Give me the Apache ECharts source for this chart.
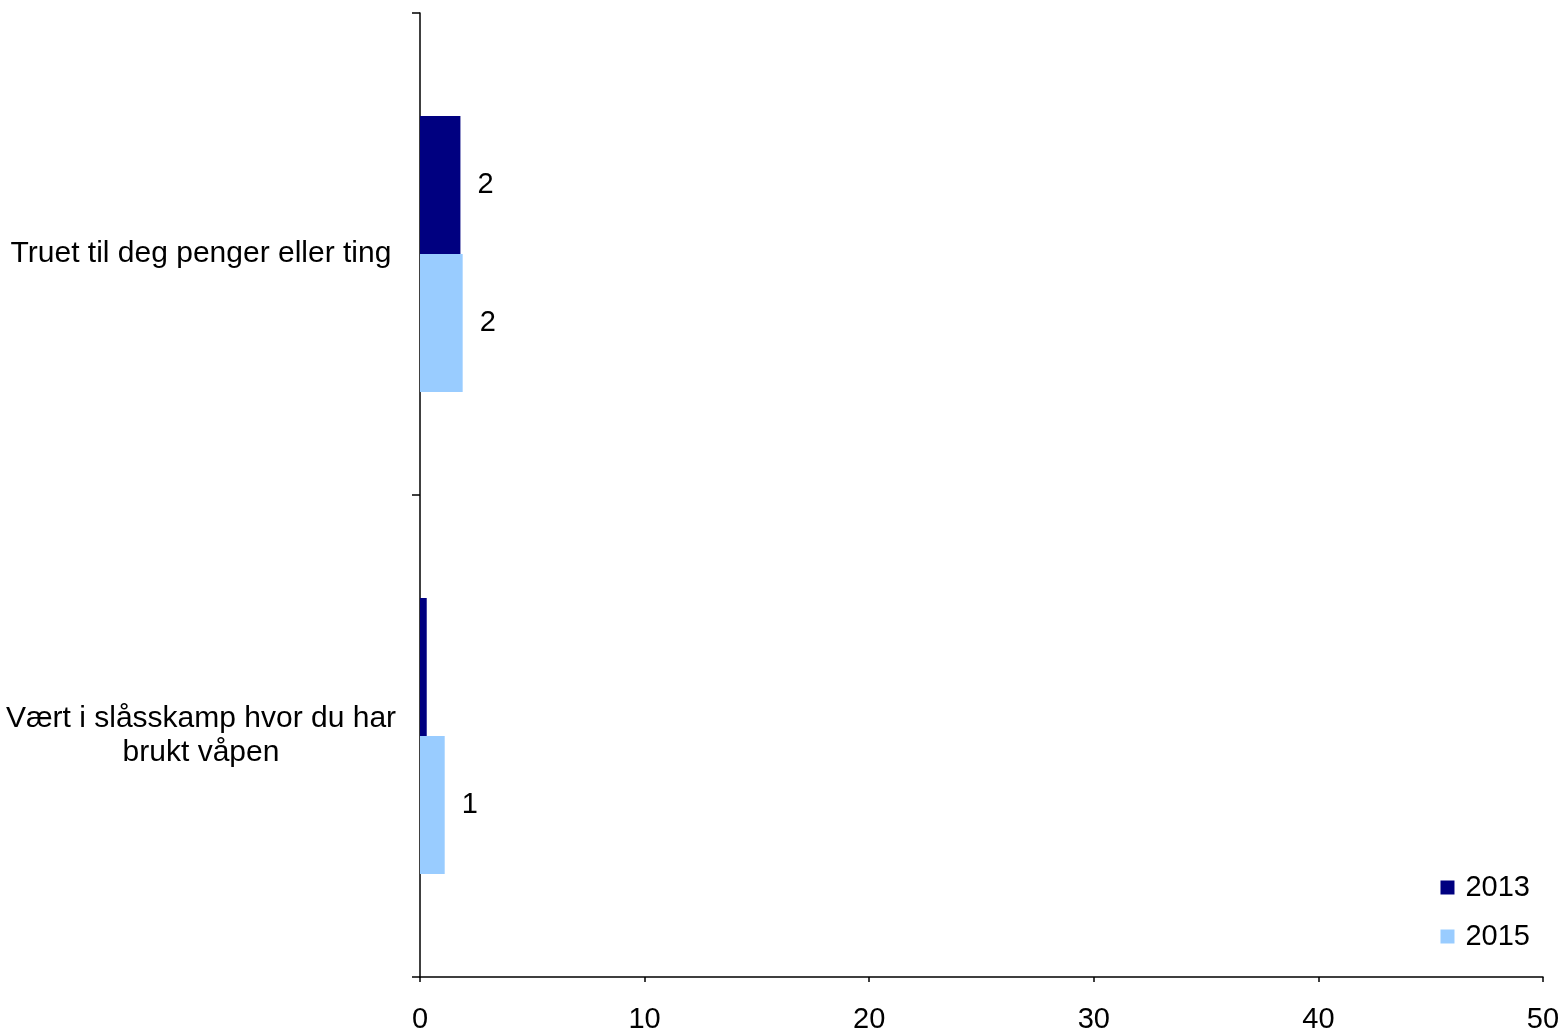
<!DOCTYPE html>
<html>
<head>
<meta charset="utf-8">
<script src="https://cdn.jsdelivr.net/npm/echarts@6/dist/echarts.min.js"></script>
<style>
html,body{margin:0;padding:0;background:#fff;}
#chart{width:1565px;height:1034px;}
</style>
</head>
<body>
<div id="chart"></div>
<script>
const categories = ['Truet til deg penger eller ting', 'Vært i slåsskamp hvor du har\nbrukt våpen'];
const seriesNames = ['2013', '2015'];
const values2013 = [1.8, 0.3];
const values2015 = [1.9, 1.1];
const xTicks = [0, 10, 20, 30, 40, 50];

const FONT = '"Liberation Sans", Arial, sans-serif';
const chart = echarts.init(document.getElementById('chart'));

function lbl(p) {
  const r = Math.round(p.value);
  return r === 0 ? '' : String(r);
}

chart.setOption({
  animation: false,
  backgroundColor: '#fff',
  textStyle: { fontFamily: FONT, color: '#000' },
  grid: { left: 420, right: 22, top: 13, bottom: 55, containLabel: false },
  legend: {
    data: seriesNames,
    orient: 'vertical',
    right: 30,
    top: 868,
    itemWidth: 14,
    itemHeight: 14,
    itemGap: 20,
    icon: 'rect',
    textStyle: { fontFamily: FONT, fontSize: 29, color: '#000', padding: [0, 0, 0, 6] }
  },
  xAxis: {
    type: 'value',
    min: xTicks[0],
    max: xTicks[xTicks.length - 1],
    interval: 10,
    axisLine: { show: true, lineStyle: { color: '#000', width: 1.5 } },
    axisTick: { show: true, length: 5, lineStyle: { color: '#000', width: 1.5 } },
    splitLine: { show: false },
    axisLabel: { fontFamily: FONT, fontSize: 29, color: '#000', margin: 28 }
  },
  yAxis: {
    type: 'category',
    inverse: true,
    data: categories,
    axisLine: { show: true, lineStyle: { color: '#000', width: 1.5 } },
    axisTick: { show: true, length: 8, lineStyle: { color: '#000', width: 1.5 } },
    axisLabel: { fontFamily: FONT, fontSize: 30, color: '#000', align: 'center', margin: 219, lineHeight: 34 }
  },
  series: [
    {
      name: '2013', type: 'bar', data: values2013,
      itemStyle: { color: '#000080' },
      barGap: '0%', barCategoryGap: '42.7%',
      label: { show: true, position: 'right', distance: 17, formatter: lbl, fontFamily: FONT, fontSize: 29, color: '#000' }
    },
    {
      name: '2015', type: 'bar', data: values2015,
      itemStyle: { color: '#99CCFF' },
      barGap: '0%', barCategoryGap: '42.7%',
      label: { show: true, position: 'right', distance: 17, formatter: lbl, fontFamily: FONT, fontSize: 29, color: '#000' }
    }
  ]
});
</script>
</body>
</html>
